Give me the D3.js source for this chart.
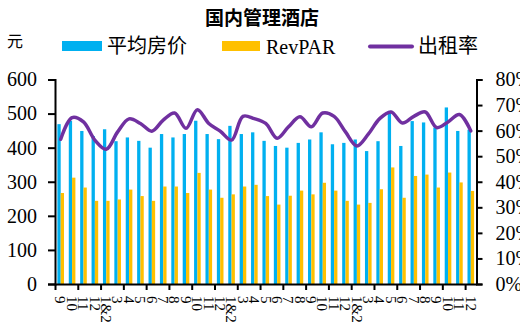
<!DOCTYPE html>
<html>
<head>
<meta charset="utf-8">
<script src="https://cdn.jsdelivr.net/npm/d3@7"></script>
<style>
  html, body { margin: 0; padding: 0; background: #fff; }
  svg { display: block; }
</style>
</head>
<body>
<svg id="chart" width="520" height="328"></svg>
<script>
// Month labels (1&2 = combined Jan/Feb)
const months = ["9","10","11","12","1&2","3","4","5","6","7","8","9","10","11","12",
                "1&2","3","4","5","6","7","8","9","10","11","12",
                "1&2","3","4","5","6","7","8","9","10","11","12"];
// 平均房价 (元)
const adr = [469,479,449,434,454,419,430,420,400,440,430,440,479,440,425,464,440,445,420,405,
             400,414,424,445,410,414,424,390,419,508,405,478,474,459,518,449,453];
// RevPAR (元)
const revpar = [267,312,283,244,244,248,277,258,244,286,286,267,326,277,253,263,286,291,258,233,
                259,274,263,297,274,244,233,238,278,342,253,317,321,283,327,298,273];
// 出租率 (%)
const occ = [56.6,65.1,63.4,56.3,52.7,59.5,64.6,62.8,59.8,64.1,66.9,60.9,68.2,62.8,59.8,56.3,65.6,64.7,62.8,57.0,
             61.5,65.4,61.5,66.9,65.6,59.5,54.0,58.6,64.7,67.3,63.0,65.6,67.3,61.2,63.4,66.3,59.9];
const leftTicks = [0,100,200,300,400,500,600];
const rightTicks = [0,10,20,30,40,50,60,70,80];

const BLUE = "#00B0F0", ORANGE = "#FFC000", PURPLE = "#7030A0";
const serif = "'Liberation Serif','Times New Roman',serif";
const cjk = "'Noto Sans CJK SC','Noto Sans CJK JP',sans-serif";

const svg = d3.select("#chart");
const L = 55, R = 476.5, T = 79.5, B = 284;

const idx = d3.range(months.length);
const x = d3.scaleBand().domain(idx).range([L, R]).paddingInner(0).paddingOuter(0);
const xb = d3.scaleLinear().domain([0, months.length]).range([L, R]);
const inner = d3.scaleBand().domain(["adr", "rev"]).range([0, x.bandwidth()]).paddingInner(0).paddingOuter(0.72);
const yL = d3.scaleLinear().domain([0, 600]).range([B, T]);
const yR = d3.scaleLinear().domain([0, 80]).range([B, T]);

// title
svg.append("text").attr("x", 262).attr("y", 24.5).attr("text-anchor", "middle")
  .style("font-family", cjk).style("font-weight", "bold").style("font-size", "19px")
  .text("国内管理酒店");

// unit
svg.append("text").attr("x", 7).attr("y", 47)
  .style("font-family", cjk).style("font-size", "16px").text("元");

// legend
const lg = svg.append("g");
lg.append("rect").attr("x", 62).attr("y", 41).attr("width", 40).attr("height", 10).attr("fill", BLUE);
lg.append("text").attr("x", 107).attr("y", 52.5).style("font-family", cjk).style("font-size", "20px").text("平均房价");
lg.append("rect").attr("x", 222).attr("y", 41).attr("width", 38).attr("height", 10).attr("fill", ORANGE);
lg.append("text").attr("x", 266).attr("y", 53.5).style("font-family", serif).style("font-size", "20px").text("RevPAR");
lg.append("line").attr("x1", 370).attr("x2", 412).attr("y1", 46.5).attr("y2", 46.5)
  .attr("stroke", PURPLE).attr("stroke-width", 4).attr("stroke-linecap", "round");
lg.append("text").attr("x", 418).attr("y", 52.5).style("font-family", cjk).style("font-size", "20px").text("出租率");

// bars
const bars = svg.append("g");
bars.selectAll("rect.adr").data(adr).join("rect").attr("class", "adr")
  .attr("x", (d, i) => x(i) + inner("adr")).attr("width", inner.bandwidth())
  .attr("y", d => yL(d)).attr("height", d => yL(0) - yL(d)).attr("fill", BLUE);
bars.selectAll("rect.rev").data(revpar).join("rect").attr("class", "rev")
  .attr("x", (d, i) => x(i) + inner("rev")).attr("width", inner.bandwidth())
  .attr("y", d => yL(d)).attr("height", d => yL(0) - yL(d)).attr("fill", ORANGE);

// occupancy line (smoothed)
const line = d3.line()
  .x((d, i) => x(i) + x.bandwidth() / 2)
  .y(d => yR(d))
  .curve(d3.curveCatmullRom.alpha(0.5));
svg.append("path").datum(occ).attr("d", line)
  .attr("fill", "none").attr("stroke", PURPLE).attr("stroke-width", 3.5)
  .attr("stroke-linejoin", "round").attr("stroke-linecap", "round");

function styleAxis(g) {
  g.select(".domain").attr("stroke", "#000").attr("stroke-width", 2);
  g.selectAll(".tick line").attr("stroke", "#000").attr("stroke-width", 2);
  g.selectAll("text").attr("fill", "#000").style("font-family", serif);
}

// left axis
svg.append("g").attr("transform", `translate(${L},0)`)
  .call(d3.axisLeft(yL).tickValues(leftTicks).tickSize(7).tickSizeOuter(7).tickPadding(11).tickFormat(d3.format("d")))
  .call(styleAxis)
  .selectAll("text").style("font-size", "20px");

// right axis
svg.append("g").attr("transform", `translate(${R},0)`)
  .call(d3.axisRight(yR).tickValues(rightTicks).tickSize(6).tickSizeOuter(6).tickPadding(13).tickFormat(d => d + "%"))
  .call(styleAxis)
  .selectAll("text").style("font-size", "20px");

// bottom axis: tick marks every two months
svg.append("g").attr("transform", `translate(0,${B})`)
  .call(d3.axisBottom(xb).tickValues(d3.range(0, months.length, 2)).tickSize(6).tickSizeOuter(0).tickFormat(""))
  .call(styleAxis);

// bottom axis: vertical month labels
const xl = svg.append("g").attr("transform", `translate(0,${B})`)
  .call(d3.axisBottom(x).tickSize(0).tickFormat(i => months[i]));
xl.select(".domain").remove();
xl.selectAll("text")
  .attr("transform", "rotate(90)")
  .attr("x", 12).attr("y", 0).attr("dy", "0.35em")
  .attr("text-anchor", "start")
  .attr("fill", "#000")
  .style("font-family", serif).style("font-size", "15px");
</script>
</body>
</html>
